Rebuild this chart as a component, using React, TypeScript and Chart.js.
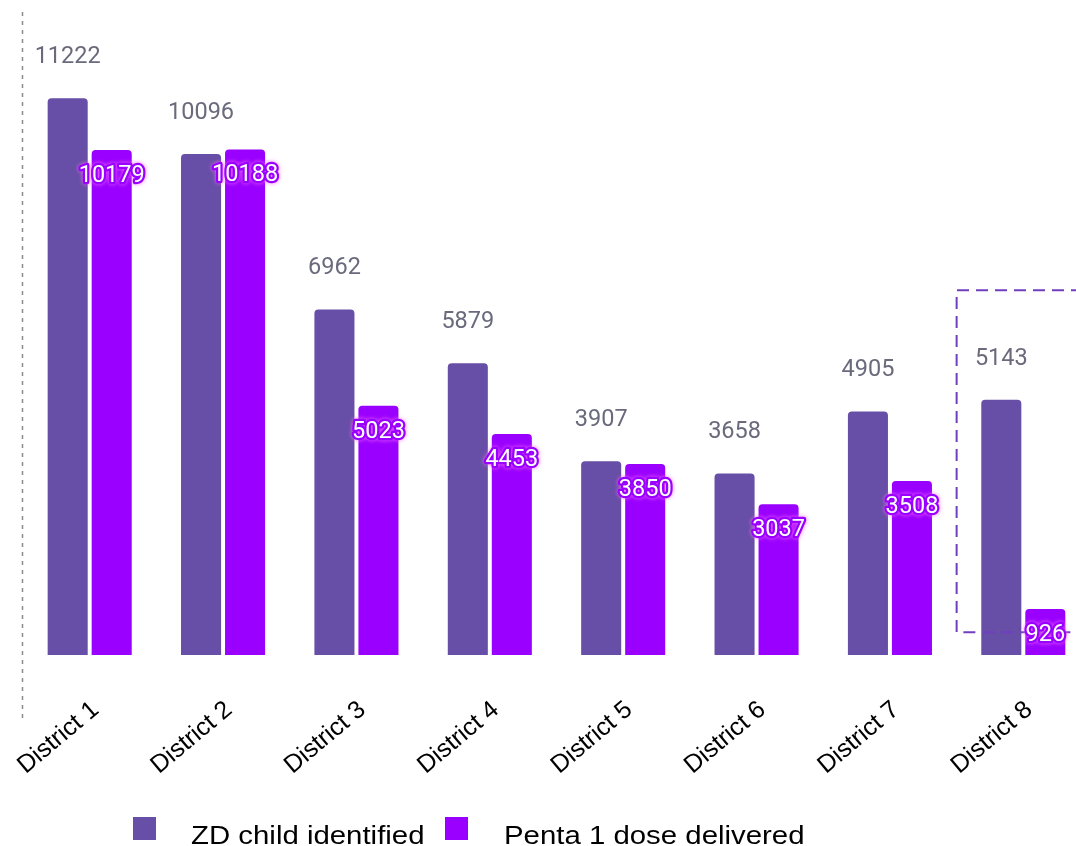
import React, { useEffect, useRef } from "react";
import { Chart, registerables } from "chart.js";

Chart.register(...registerables);

const categories = ["District 1", "District 2", "District 3", "District 4", "District 5", "District 6", "District 7", "District 8"];
const zdChildIdentified = [11222, 10096, 6962, 5879, 3907, 3658, 4905, 5143];
const penta1Delivered = [10179, 10188, 5023, 4453, 3850, 3037, 3508, 926];
const seriesNames = ["ZD child identified", "Penta 1 dose delivered"];
const seriesColors = ["#674ea7", "#9900ff"];
const yMax = 13200;
const highlightIndex = 7;
const highlightTopValue = 7350;
const highlightBottomValue = 460;

const overlayPlugin = {
  id: "overlay",
  afterDatasetsDraw(chart: any) {
    const ctx = chart.ctx;
    const area = chart.chartArea;
    const xs = chart.scales.x;
    const ys = chart.scales.y;
    ctx.save();
    // dashed vertical line at left
    ctx.strokeStyle = "#8a8a8a";
    ctx.lineWidth = 1.5;
    ctx.setLineDash([4, 5]);
    ctx.beginPath();
    ctx.moveTo(area.left - 0.5, 12);
    ctx.lineTo(area.left - 0.5, area.bottom + 67);
    ctx.stroke();

    // highlight box
    const cx = xs.getPixelForValue(highlightIndex);
    const half = (xs.getPixelForValue(1) - xs.getPixelForValue(0)) / 2;
    const left = cx - half;
    const top = ys.getPixelForValue(highlightTopValue);
    const bottom = ys.getPixelForValue(highlightBottomValue);
    ctx.strokeStyle = "#6f3fc0";
    ctx.lineWidth = 2;
    ctx.setLineDash([12, 7]);
    ctx.beginPath();
    ctx.moveTo(chart.width + 10, top);
    ctx.lineTo(left, top);
    ctx.lineTo(left, bottom);
    ctx.lineTo(chart.width + 10, bottom);
    ctx.stroke();
    ctx.setLineDash([]);

    // labels for ZD
    ctx.textAlign = "center";
    ctx.textBaseline = "middle";
    ctx.font = "23.5px Roboto, 'Noto Sans', sans-serif";
    const m0 = chart.getDatasetMeta(0);
    m0.data.forEach((bar: any, i: number) => {
      ctx.fillStyle = "#6a6a7c";
      ctx.fillText(String(zdChildIdentified[i]), bar.x, bar.y - 41);
    });
    // labels for penta
    const m1 = chart.getDatasetMeta(1);
    m1.data.forEach((bar: any, i: number) => {
      const t = String(penta1Delivered[i]);
      ctx.save();
      ctx.shadowColor = "rgba(255,110,255,0.9)";
      ctx.shadowBlur = 4;
      ctx.lineJoin = "round";
      ctx.strokeStyle = "#9900ff";
      ctx.lineWidth = 4.5;
      ctx.strokeText(t, bar.x, bar.y + 26);
      ctx.restore();
      ctx.fillStyle = "#ffffff";
      ctx.fillText(t, bar.x, bar.y + 26);
    });
    ctx.restore();
  },
};

export default function App() {
  const ref = useRef<HTMLCanvasElement>(null);
  useEffect(() => {
    if (!ref.current) return;
    const chart = new Chart(ref.current, {
      type: "bar",
      data: {
        labels: categories,
        datasets: [
          {
            label: seriesNames[0],
            data: zdChildIdentified,
            backgroundColor: seriesColors[0],
            borderRadius: 4,
            categoryPercentage: 0.66,
            barPercentage: 0.91,
          },
          {
            label: seriesNames[1],
            data: penta1Delivered,
            backgroundColor: seriesColors[1],
            borderRadius: 4,
            categoryPercentage: 0.66,
            barPercentage: 0.91,
          },
        ],
      },
      options: {
        animation: false,
        responsive: false,
        maintainAspectRatio: false,
        layout: { padding: { left: 23, right: 2, top: 0, bottom: 0 } },
        plugins: { legend: { display: false }, tooltip: { enabled: false } },
        scales: {
          x: {
            grid: { display: false, drawTicks: false },
            border: { display: false },
            ticks: {
              color: "#000000",
              font: { family: "Arial, 'Liberation Sans', sans-serif", size: 25 },
              minRotation: 40,
              maxRotation: 40,
              padding: 40,
              labelOffset: 6,
            },
            afterFit: (s: any) => {
              s.height = 191;
              s.paddingLeft = 0;
              s.paddingRight = 0;
            },
          },
          y: {
            display: false,
            min: 0,
            max: yMax,
          },
        },
      },
      plugins: [overlayPlugin],
    });
    return () => chart.destroy();
  }, []);

  const legendText: React.CSSProperties = {
    position: "absolute",
    top: 822,
    fontFamily: "Arial, 'Liberation Sans', sans-serif",
    fontSize: 26,
    lineHeight: "26px",
    color: "#000",
    whiteSpace: "nowrap",
    transform: "scaleX(1.13)",
    transformOrigin: "left center",
  };
  return (
    <div style={{ position: "fixed", left: 0, top: 0, width: 1076, height: 846, overflow: "hidden", background: "#fff" }}>
      <canvas ref={ref} width={1092} height={846} style={{ position: "absolute", left: 0, top: 0, width: 1092, height: 846 }} />
      <div style={{ position: "absolute", left: 133, top: 817, width: 23, height: 23, background: seriesColors[0] }} />
      <div style={{ ...legendText, left: 191 }}>{seriesNames[0]}</div>
      <div style={{ position: "absolute", left: 445, top: 817, width: 23, height: 23, background: seriesColors[1] }} />
      <div style={{ ...legendText, left: 504 }}>{seriesNames[1]}</div>
    </div>
  );
}
